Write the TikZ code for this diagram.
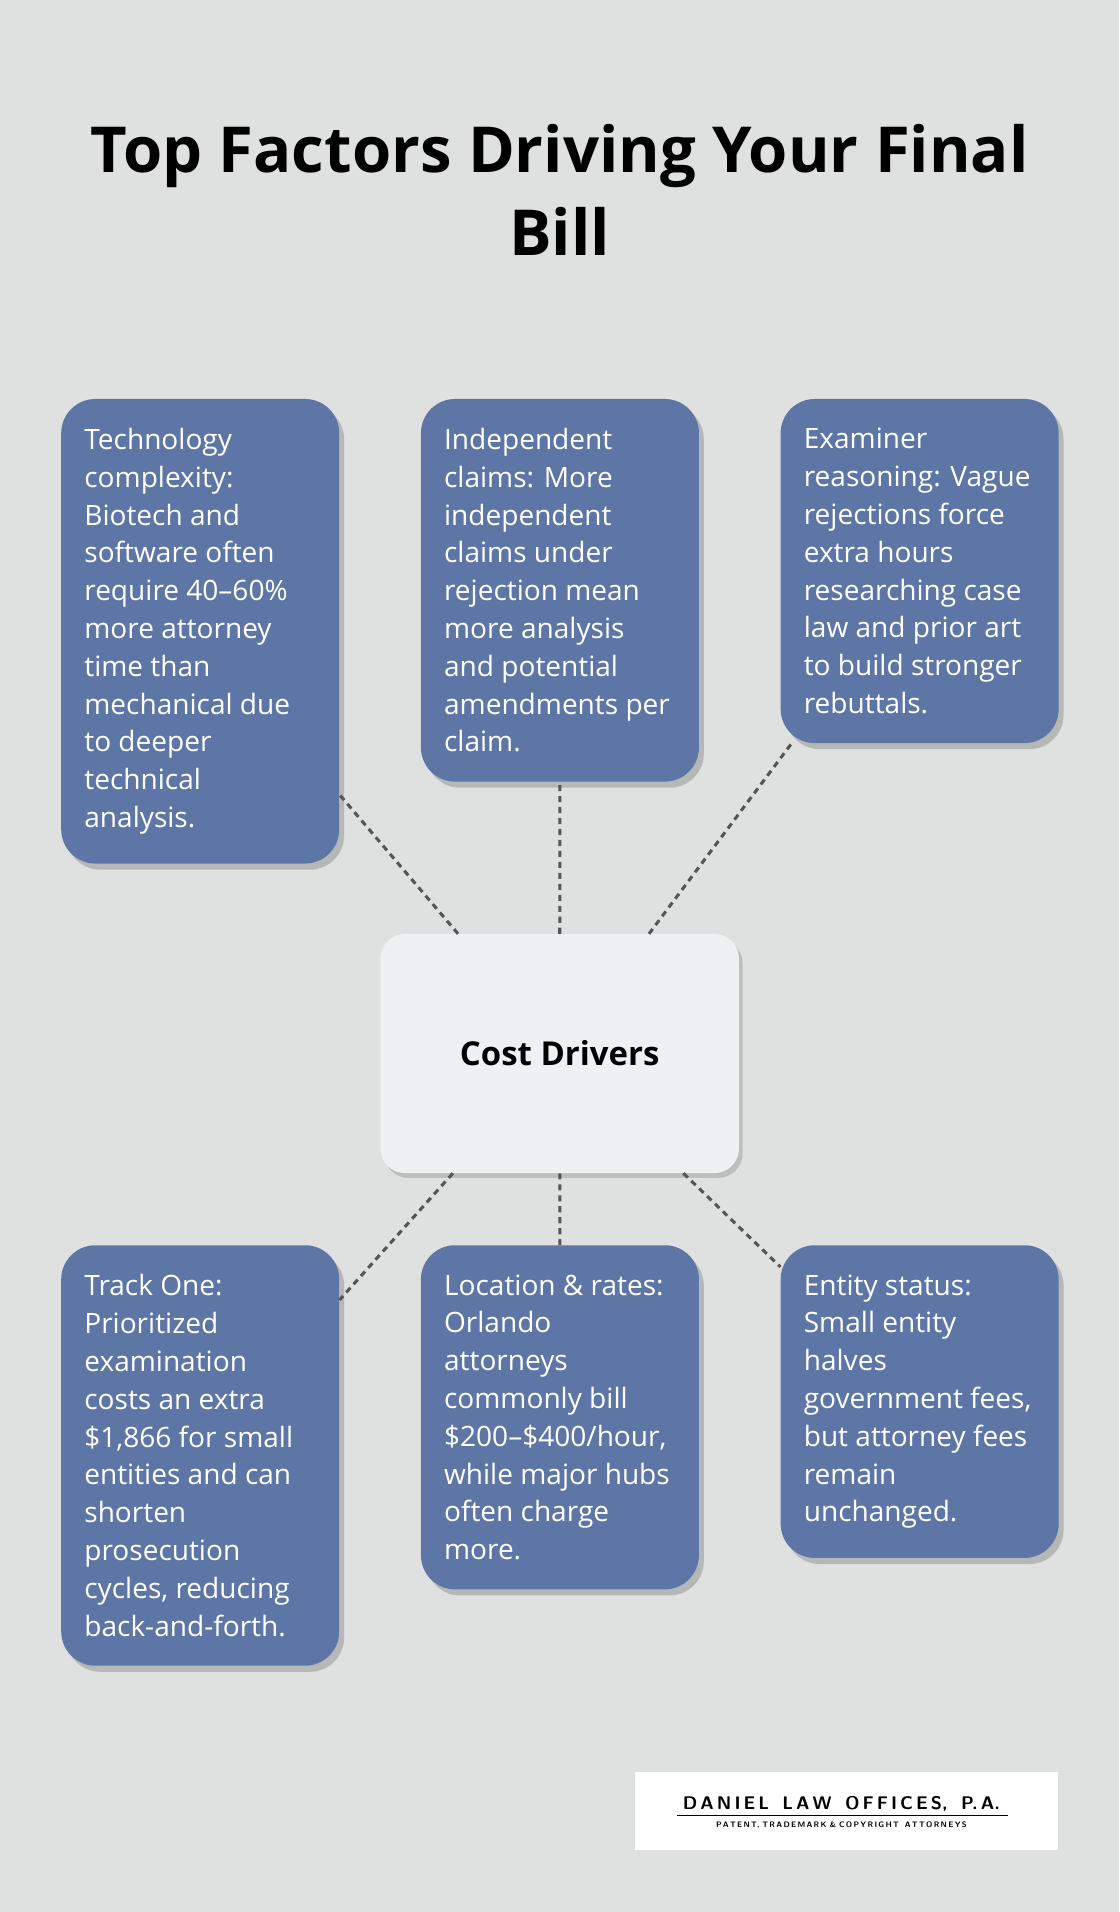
\documentclass[tikz,border=0pt]{standalone}
\usepackage{fontspec}
\setmainfont{Open Sans}
\usetikzlibrary{shadows}
\definecolor{bgcol}{HTML}{DFE1E0}
\definecolor{cardcol}{HTML}{5D76A6}
\definecolor{hubcol}{HTML}{EFF0F2}
\definecolor{linkcol}{HTML}{555555}
\hyphenpenalty=10000
\exhyphenpenalty=10000
\tikzset{
  card/.style={fill=cardcol, rounded corners=28pt, text=white, anchor=north west,
    text width=190pt, align=flush left, inner xsep=19pt, inner ysep=24pt,
    font=\fontsize{23}{31}\selectfont,
    drop shadow={shadow xshift=4pt, shadow yshift=-5pt, opacity=0.18, fill=black}},
  hub/.style={fill=hubcol, rounded corners=20pt, minimum width=294pt, minimum height=196pt,
    font=\fontsize{27}{31}\selectfont\bfseries,
    drop shadow={shadow xshift=3pt, shadow yshift=-4pt, opacity=0.15, fill=black}},
  link/.style={draw=linkcol, line width=2.5pt, dash pattern=on 5pt off 4pt}
}
\begin{document}
\begin{tikzpicture}[x=1pt,y=-1pt]
\fill[bgcol] (0,0) rectangle (918,1568);
\useasboundingbox (0,0) rectangle (918,1568);
% title
\node[font=\fontsize{52}{68}\selectfont\bfseries, align=center] (title) at (459,156)
  {Top Factors Driving Your Final\\Bill};
% hub
\node[hub] (hub) at (459,864) {Cost Drivers};
% cards
\node[card] (tech) at (50,327) {Technology complexity: Biotech and software often require 40–60\% more attorney time than mechanical due to deeper technical analysis.};
\node[card] (claims) at (345,327) {Independent claims: More independent claims under rejection mean more analysis and potential amendments per claim.};
\node[card] (exam) at (640,327) {Examiner reasoning: Vague rejections force extra hours researching case law and prior art to build stronger rebuttals.};
\node[card] (track) at (50,1021) {Track One: Prioritized examination costs an extra \$1,866 for small entities and can shorten prosecution cycles, reducing back-and-forth.};
\node[card] (rates) at (345,1021) {Location \& rates: Orlando attorneys commonly bill \$200–\$400/hour, while major hubs often charge more.};
\node[card] (entity) at (640,1021) {Entity status: Small entity halves government fees, but attorney fees remain unchanged.};
% links
\foreach \c in {tech,claims,exam,track,rates,entity}
  \draw[link] (hub) -- (\c);
% logo
\node[fill=white, minimum width=347pt, minimum height=64pt] (logo) at (694.5,1485) {};
\node[font=\fontsize{15}{15}\selectfont\sffamily\bfseries] (logoname) at (690,1479)
  {D\,A\,N\,I\,E\,L\ \ L\,A\,W\ \ O\,F\,F\,I\,C\,E\,S,\ \ P.\,A.};
\draw[line width=1.2pt] (555,1489) -- (827,1489);
\node[font=\fontsize{6.5}{7}\selectfont\sffamily\bfseries] (logosub) at (690,1497)
  {P\,A\,T\,E\,N\,T,\ T\,R\,A\,D\,E\,M\,A\,R\,K\ \&\ C\,O\,P\,Y\,R\,I\,G\,H\,T\ \ A\,T\,T\,O\,R\,N\,E\,Y\,S};
\end{tikzpicture}
\end{document}
